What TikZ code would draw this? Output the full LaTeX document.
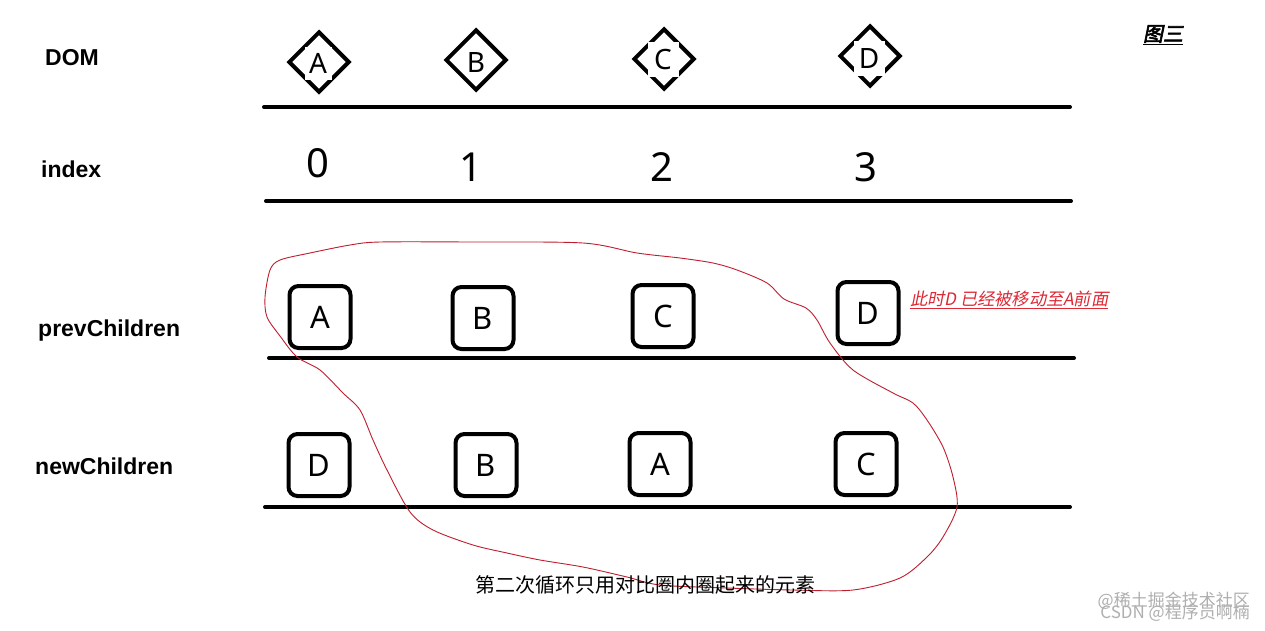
\documentclass[tikz,border=0pt]{standalone}
\usepackage{fontspec}
\setmainfont{Noto Sans}
\newfontfamily\lblfont{Liberation Sans}
\newfontfamily\cjk{Noto Sans CJK SC}
\newfontfamily\cjkit[FakeSlant=0.2]{Noto Sans CJK SC}
\newfontfamily\cjkbi[FakeSlant=0.2,FakeBold=3]{Noto Sans CJK SC}
\usetikzlibrary{shapes.geometric}
\definecolor{annred}{RGB}{222,40,52}
\definecolor{curvered}{RGB}{190,30,45}
\definecolor{wmgray}{RGB}{175,175,175}
\begin{document}
\begin{tikzpicture}[x=1pt,y=-1pt,
  rowlabel/.style={anchor=west,font=\fontsize{23}{25}\lblfont\bfseries,inner sep=0pt},
  rule/.style={line width=4pt,line cap=round},
  dombox/.style={diamond,draw,line width=4pt,minimum width=61pt,minimum height=61pt,inner sep=0pt},
  domtxt/.style={fill=white,inner sep=0pt,minimum width=#1,minimum height=35pt,font=\fontsize{28}{30}\selectfont},
  domtxt/.default=31pt,
  idx/.style={inner sep=0pt,font=\fontsize{40}{42}\selectfont},
  kid/.style={draw,line width=4pt,rounded corners=9pt,minimum width=61pt,minimum height=62pt,inner sep=0pt,font=\fontsize{31}{33}\selectfont},
]
\useasboundingbox[fill=white] (0,0) rectangle (1265,630);

% row labels
\node[rowlabel] (lDOM) at (45,58) {DOM};
\node[rowlabel] (lidx) at (41,169) {index};
\node[rowlabel] (lprev) at (38,331) {prevChildren};
\node[rowlabel] (lnew) at (35,466) {newChildren};

% rules
\coordinate (r1a) at (264,107); \coordinate (r1b) at (1070,107);
\coordinate (r2a) at (266,201); \coordinate (r2b) at (1071,201);
\coordinate (r3a) at (269,358); \coordinate (r3b) at (1074,358);
\coordinate (r4a) at (265,507); \coordinate (r4b) at (1070,507);
\draw[rule] (r1a) -- (r1b);
\draw[rule] (r2a) -- (r2b);
\draw[rule] (r3a) -- (r3b);
\draw[rule] (r4a) -- (r4b);

% DOM diamonds
\node[dombox] (dA) at (319,62) {};
\node[dombox] (dB) at (476,60) {};
\node[dombox] (dC) at (664,59) {};
\node[dombox] (dD) at (870,56) {};
\node[domtxt=27pt,minimum height=33pt] (tA) at (318,63) {A};
\node[inner sep=0pt,font=\fontsize{28}{30}\selectfont] (tB) at (476,62) {B};
\node[domtxt] (tC) at (663,59) {C};
\node[domtxt] (tD) at (869,58) {D};

% index
\node[idx] (i0) at (318,163) {0};
\node[idx] (i1) at (471,167) {1};
\node[idx] (i2) at (662,167) {2};
\node[idx] (i3) at (866,167) {3};

% prevChildren
\node[kid] (pA) at (320,317) {A};
\node[kid] (pB) at (483,318) {\raisebox{-3pt}{B}};
\node[kid] (pC) at (663,316) {\raisebox{-3pt}{C}};
\node[kid] (pD) at (868,313) {D};

% newChildren
\node[kid] (nD) at (319,465) {\raisebox{-4pt}{D}};
\node[kid] (nB) at (486,465) {\raisebox{-3pt}{B}};
\node[kid] (nA) at (660,464) {A};
\node[kid] (nC) at (866,464) {\raisebox{-3pt}{C}};

% annotation
\node[anchor=west,inner sep=0pt,text=annred,font=\fontsize{17.2}{19}\cjkit] (note) at (910,300) {\underline{此时D 已经被移动至A前面}};
\node[inner sep=0pt,font=\fontsize{20}{22}\cjkbi] (fig) at (1163,35) {\underline{图三}};

% red loop
\draw[curvered,line width=0.9pt] plot[smooth cycle,tension=0.5] coordinates {
 (380,242) (470,242) (583,243) (637,253) (680,258) (713,263) (737,270) (767,283)
 (784,299) (806,308) (817,320) (830,343) (853,370) (893,393) (913,403) (927,420)
 (943,447) (953,477) (957,507) (943,537) (927,557) (900,578) (853,590) (793,590)
 (727,588) (660,585) (627,577) (583,567) (540,560) (507,553) (473,545) (433,530)
 (410,512) (387,470) (373,440) (360,410) (343,393) (320,370) (297,357) (280,336)
 (267,317) (265,297) (270,270) (280,260) (310,253) (350,245)};

% caption
\node[inner sep=0pt,font=\fontsize{20}{22}\cjk] (cap) at (645,585) {第二次循环只用对比圈内圈起来的元素};

% watermark
\node[anchor=east,inner sep=0pt,text=wmgray,font=\fontsize{17}{19}\cjk] (wm1) at (1250,601) {@稀土掘金技术社区};
\node[anchor=east,inner sep=0pt,text=wmgray,font=\fontsize{17}{19}\cjk] (wm2) at (1250,613) {CSDN @程序员啊楠};
\end{tikzpicture}
\end{document}
